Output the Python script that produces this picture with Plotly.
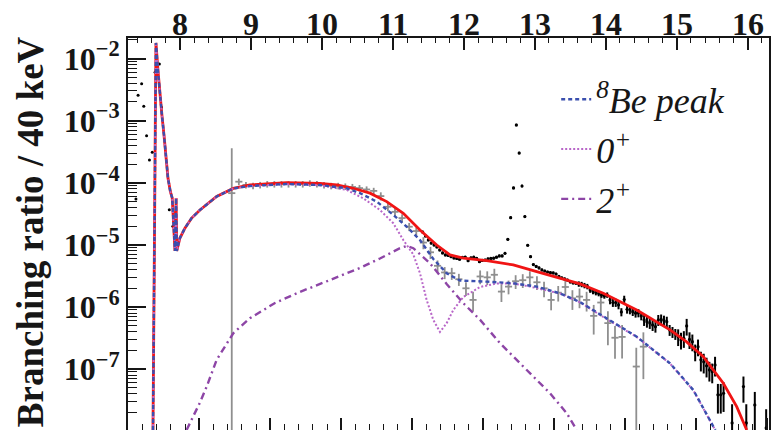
import plotly.graph_objects as go

# --- Hoyle-state region shared by the fit curves (x in MeV, branching ratio per 40 keV)
peak_x = [7.620, 7.634, 7.645, 7.655, 7.662, 7.690, 7.718, 7.746, 7.775, 7.803, 7.831,
          7.866, 7.891, 7.906, 7.930, 7.946, 7.955, 8.000, 8.070, 8.165, 8.282, 8.517, 8.751]
peak_y = [1.05e-8, 4.3e-7, 5.3e-5, 2.1e-3, 1.78e-2, 6.5e-3, 2.59e-3, 1.23e-3, 5.9e-4, 2.33e-4, 1.19e-4,
          7.1e-5, 5.7e-5, 2.7e-5, 8.0e-6, 5.7e-5, 8.0e-6, 1.29e-5, 1.86e-5, 2.7e-5, 3.65e-5, 6.0e-5, 8.1e-5]

# --- total fit (red)
total_x = peak_x + [8.986, 9.504, 9.973, 10.208, 10.442, 10.678, 10.913, 11.147, 11.382, 11.618,
                    11.805, 11.993, 12.322, 12.697, 13.027, 13.355, 13.637, 13.965, 14.436, 14.905,
                    15.140, 15.375, 15.656, 15.845, 15.986]
total_y = peak_y + [9.2e-5, 1.0e-4, 9.8e-5, 9.2e-5, 8.15e-5, 6.8e-5, 4.97e-5, 3.23e-5, 1.74e-5, 9.95e-6,
                    6.9e-6, 6.1e-6, 5.57e-6, 4.75e-6, 3.71e-6, 2.9e-6, 2.35e-6, 1.66e-6, 8.97e-7, 4.28e-7,
                    2.75e-7, 1.59e-7, 5.93e-8, 2.49e-8, 1.05e-8]

# --- 8Be peak component (blue dashed)
be_x = peak_x + [8.986, 9.504, 9.973, 10.349, 10.537, 10.772, 11.006, 11.195, 11.382, 11.570,
                 11.758, 11.946, 12.322, 12.697, 13.027, 13.355, 13.637, 13.965, 14.436, 14.905,
                 15.234, 15.516, 15.545]
be_y = peak_y + [8.87e-5, 9.55e-5, 9.2e-5, 8.15e-5, 6.8e-5, 4.97e-5, 3.04e-5, 1.96e-5, 1.2e-5, 5.93e-6,
                 3.49e-6, 2.67e-6, 2.56e-6, 2.41e-6, 2.13e-6, 1.66e-6, 1.2e-6, 7.0e-7, 3.33e-7, 1.24e-7,
                 4.6e-8, 1.19e-8, 1.05e-8]

# --- 0+ component (dotted)
zero_x = peak_x + [8.986, 9.504, 9.973, 10.349, 10.583, 10.818, 11.006, 11.147, 11.288, 11.382,
                   11.476, 11.570, 11.664, 11.758, 11.852, 11.993, 12.230, 12.463, 12.697, 12.932,
                   13.355, 13.637, 13.965, 14.436, 14.905, 15.234, 15.516, 15.545]
zero_y = peak_y + [8.8e-5, 9.5e-5, 9.1e-5, 7.66e-5, 5.62e-5, 3.65e-5, 2.23e-5, 1.2e-5, 7.0e-6, 3.5e-6,
                   1.3e-6, 6.2e-7, 3.97e-7, 5.48e-7, 8.97e-7, 1.45e-6, 2.1e-6, 2.39e-6, 2.39e-6, 2.13e-6,
                   1.65e-6, 1.19e-6, 6.9e-7, 3.3e-7, 1.23e-7, 4.55e-8, 1.18e-8, 1.05e-8]

# --- 2+ component (dash-dot)
two_x = [8.094, 8.187, 8.282, 8.376, 8.517, 8.751, 8.986, 9.339, 9.691, 10.114, 10.537, 10.818,
         11.100, 11.195, 11.288, 11.523, 11.758, 11.993, 12.230, 12.510, 12.745, 12.979,
         13.214, 13.450, 13.590]
two_y = [1.05e-8, 1.72e-8, 2.9e-8, 5.2e-8, 1.41e-7, 3.78e-7, 6.6e-7, 1.16e-6, 1.75e-6, 2.72e-6,
         4.26e-6, 6.04e-6, 8.83e-6, 9.6e-6, 8.83e-6, 5.06e-6, 2.35e-6, 1.15e-6, 6.2e-7, 2.61e-7,
         1.41e-7, 7.57e-8, 4.09e-8, 1.95e-8, 1.05e-8]

# --- grey data (100 keV bins) with relative uncertainties
grey_x = [8.73, 8.83, 8.93, 9.03, 9.13, 9.23, 9.33, 9.43, 9.53, 9.63, 9.73, 9.83, 9.93, 10.03,
          10.13, 10.23, 10.33, 10.43, 10.53, 10.63, 10.73, 10.83, 10.93, 11.03, 11.13, 11.23,
          11.33, 11.43, 11.53, 11.63, 11.73, 11.83, 11.93, 12.03, 12.13, 12.23, 12.33, 12.43,
          12.53, 12.63, 12.73, 12.83, 12.93, 13.03, 13.13, 13.23, 13.33, 13.43, 13.53, 13.63,
          13.73, 13.83, 13.93, 14.03, 14.13, 14.23, 14.43, 14.53]
grey_y = [6.8e-5, 1.04e-4, 9.2e-5, 8.9e-5, 9.2e-5, 9.5e-5, 9.5e-5, 9.5e-5, 9.5e-5, 9.5e-5, 9.5e-5,
          9.8e-5, 9.5e-5, 9.2e-5, 8.9e-5, 8.9e-5, 8.7e-5, 8.55e-5, 8.2e-5, 7.8e-5, 7.4e-5, 6.1e-5,
          4.1e-5, 3.4e-5, 2.7e-5, 1.96e-5, 1.67e-5, 1.09e-5, 7.6e-6, 4.6e-6, 3.6e-6, 3.5e-6, 2.8e-6,
          2.0e-6, 1.3e-6, 3.1e-6, 3.0e-6, 3.3e-6, 1.77e-6, 2.13e-6, 2.6e-6, 2.7e-6, 3.0e-6, 2.5e-6,
          2.0e-6, 1.3e-6, 1.7e-6, 2.1e-6, 1.38e-6, 1.47e-6, 1.3e-6, 7.2e-7, 1.18e-6, 5.5e-7, 3.2e-7,
          3.3e-7, 1.1e-7, 2.3e-7]
grey_rel = [4.3, 0.12, 0.12, 0.12, 0.12, 0.12, 0.12, 0.12, 0.12, 0.12, 0.12, 0.12, 0.12, 0.12,
            0.12, 0.12, 0.12, 0.12, 0.12, 0.12, 0.12, 0.15, 0.15, 0.15, 0.15, 0.15, 0.15, 0.22,
            0.22, 0.22, 0.22, 0.22, 0.22, 0.25, 0.35, 0.25, 0.25, 0.25, 0.32, 0.25, 0.25, 0.25,
            0.25, 0.25, 0.28, 0.32, 0.28, 0.28, 0.35, 0.35, 0.35, 0.5, 0.4, 0.56, 0.54, 0.55,
            1.0, 0.7]

# --- black data (40 keV bins): low-energy side of the Hoyle state
blk_left_x = [7.38, 7.41, 7.46, 7.49, 7.53, 7.57, 7.61, 7.65, 7.71, 7.74, 7.85, 7.90]
blk_left_y = [5.5e-5, 2.56e-3, 3.93e-3, 1.70e-3, 5.73e-4, 2.33e-4, 3.09e-4, 6.0e-3, 8.15e-3,
              1.64e-3, 3.69e-5, 2.0e-5]

# --- black data (40 keV bins): high-energy region
blk_x = [11.42, 11.46, 11.50, 11.54, 11.58, 11.62, 11.66, 11.70, 11.74, 11.78, 11.82, 11.86,
         11.90, 11.94, 11.98, 12.02, 12.06, 12.10, 12.14, 12.18, 12.22, 12.26, 12.30, 12.34,
         12.38, 12.42, 12.46, 12.50, 12.54, 12.58, 12.62, 12.66, 12.70, 12.74, 12.78, 12.82,
         12.86, 12.90, 12.94, 12.98, 13.02, 13.06, 13.10, 13.14, 13.18, 13.22, 13.26, 13.30,
         13.34, 13.38, 13.42, 13.46, 13.50, 13.54, 13.58, 13.62, 13.66, 13.70, 13.74, 13.78,
         13.82, 13.86, 13.90, 13.94, 13.98, 14.02, 14.06, 14.10, 14.14, 14.18, 14.22, 14.26,
         14.30, 14.34, 14.38, 14.42, 14.46, 14.50, 14.54, 14.58, 14.62, 14.66, 14.70, 14.74,
         14.78, 14.82, 14.86, 14.90, 14.94, 14.98, 15.02, 15.06, 15.10, 15.14, 15.18, 15.22,
         15.26, 15.30, 15.34, 15.38, 15.42, 15.46, 15.50, 15.54, 15.58, 15.62, 15.66, 15.78,
         15.94, 15.98, 16.10, 16.26]
blk_y = [1.61e-5, 1.39e-5, 1.20e-5, 1.07e-5, 9.97e-6, 9.27e-6, 8.28e-6, 7.41e-6, 6.88e-6, 6.76e-6,
         6.46e-6, 6.16e-6, 6.05e-6, 5.87e-6, 6.28e-6, 6.33e-6, 5.57e-6, 6.16e-6, 6.33e-6, 6.05e-6,
         5.37e-6, 5.61e-6, 5.71e-6, 5.93e-6, 6.05e-6, 6.1e-6, 6.33e-6, 6.64e-6, 6.64e-6, 7.33e-6,
         1.23e-5, 2.74e-5, 8.24e-5, 8.51e-4, 3.01e-4, 8.87e-5, 2.85e-5, 9.86e-6, 6.46e-6, 4.81e-6,
         4.50e-6, 4.26e-6, 3.95e-6, 3.80e-6, 3.66e-6, 3.57e-6, 3.53e-6, 3.40e-6, 3.10e-6, 2.94e-6,
         2.83e-6, 2.72e-6, 2.53e-6, 2.44e-6, 2.41e-6, 2.35e-6, 2.31e-6, 2.22e-6, 2.14e-6, 1.88e-6,
         1.78e-6, 1.71e-6, 1.65e-6, 1.56e-6, 1.51e-6, 1.56e-6, 1.30e-6, 1.18e-6, 1.18e-6, 1.08e-6,
         8.32e-7, 1.32e-6, 9.2e-7, 8.97e-7, 8.42e-7, 7.94e-7, 8.02e-7, 7.18e-7, 6.19e-7, 5.81e-7,
         5.54e-7, 5.14e-7, 4.83e-7, 6.19e-7, 6.31e-7, 6.04e-7, 5.81e-7, 4.28e-7, 3.97e-7, 3.69e-7,
         3.36e-7, 2.95e-7, 3.14e-7, 4.95e-7, 3.01e-7, 2.77e-7, 1.91e-7, 2.30e-7, 1.41e-7, 1.31e-7,
         1.13e-7, 9.7e-8, 9.1e-8, 1.17e-7, 3.85e-8, 3.85e-8, 4.09e-8, 1.36e-8, 5.24e-8, 1.36e-8,
         2.65e-8, 1.13e-8]
blk_rel = [
    0.05, 0.05, 0.05, 0.05, 0.05, 0.05, 0.05, 0.05, 0.05, 0.05, 0.05, 0.05, 0.05, 0.05, 0.05,
    0.05, 0.05, 0.05, 0.05, 0.05, 0.05, 0.05, 0.05, 0.05, 0.05, 0.05, 0.05, 0.05, 0.05, 0.05,
    0.05, 0.05, 0.05, 0.05, 0.05, 0.05, 0.05, 0.05, 0.05, 0.05, 0.05, 0.05, 0.05, 0.05, 0.05,
    0.05, 0.05, 0.05, 0.05, 0.05, 0.05, 0.05, 0.05, 0.05, 0.05,
    0.10, 0.10, 0.10, 0.10, 0.10, 0.10, 0.10, 0.10, 0.10, 0.10, 0.10,
    0.15, 0.15, 0.15, 0.15, 0.15, 0.15, 0.15, 0.15, 0.15, 0.15, 0.15, 0.15,
    0.20, 0.20, 0.20, 0.20, 0.20, 0.20, 0.20, 0.20, 0.20, 0.20, 0.20, 0.20,
    0.30, 0.30, 0.30, 0.30, 0.30, 0.30, 0.30, 0.30,
    0.35, 0.35, 0.35, 0.35, 0.35, 0.35,
    0.5, 0.5, 0.5, 1.0, 0.45, 1.0, 0.62, 1.0]

# --- axis labels
x_ticks = [8, 9, 10, 11, 12, 13, 14, 15, 16]
y_exponents = [-7, -6, -5, -4, -3, -2]

SERIF = "Liberation Serif"
INK = "#161616"
RED = "#f01414"
BLUE = "#3a4fae"
PINK = "#b866c8"
PURPLE = "#8d45a6"
GREY = "#8f8f8f"

fig = go.Figure()

# grey crosses
fig.add_trace(go.Scatter(
    x=grey_x, y=grey_y, mode="markers",
    marker=dict(size=2, color=GREY),
    error_x=dict(type="constant", value=0.05, width=0, thickness=1.8, color=GREY),
    error_y=dict(type="data", array=[v * r for v, r in zip(grey_y, grey_rel)],
                 width=0, thickness=1.8, color=GREY),
    showlegend=False, hoverinfo="skip"))

# black data
fig.add_trace(go.Scatter(
    x=blk_left_x, y=blk_left_y, mode="markers",
    marker=dict(size=3, color="black"),
    showlegend=False, hoverinfo="skip"))
fig.add_trace(go.Scatter(
    x=blk_x, y=blk_y, mode="markers",
    marker=dict(size=3.2, color="black"),
    error_y=dict(type="data", array=[v * r for v, r in zip(blk_y, blk_rel)],
                 width=0, thickness=2, color="black"),
    showlegend=False, hoverinfo="skip"))

# fit curves
fig.add_trace(go.Scatter(x=total_x, y=total_y, mode="lines",
                         line=dict(color=RED, width=2.8), showlegend=False, hoverinfo="skip"))
fig.add_trace(go.Scatter(x=two_x, y=two_y, mode="lines", name="2<sup>+</sup>", legendrank=3,
                         line=dict(color=PURPLE, width=2.4, dash="7px,4px,2px,4px")))
fig.add_trace(go.Scatter(x=zero_x, y=zero_y, mode="lines", name="0<sup>+</sup>", legendrank=2,
                         line=dict(color=PINK, width=2.0, dash="2px,2px")))
fig.add_trace(go.Scatter(x=be_x, y=be_y, mode="lines", name="<sup>8</sup>Be peak", legendrank=1,
                         line=dict(color=BLUE, width=2.4, dash="4px,3px")))

bold_tick = dict(family=SERIF, size=32, color=INK, weight="bold")

# energy labels above the top axis
top_labels = [dict(text=str(v), x=v, xref="x", y=1.0, yref="paper", yshift=14,
                   xanchor="center", yanchor="middle", showarrow=False, font=bold_tick)
              for v in x_ticks]

title = dict(text="Branching ratio / 40 keV", textangle=-90,
             xref="paper", yref="paper", x=-0.152, y=0.506, xanchor="center", yanchor="middle",
             showarrow=False, font=dict(family=SERIF, size=37, color=INK, weight="bold"))

fig.update_layout(
    width=773, height=430,
    margin=dict(l=128, r=4, t=38, b=0, autoexpand=False),
    paper_bgcolor="white", plot_bgcolor="white",
    showlegend=True,
    legend=dict(x=0.668, y=0.92, xanchor="left", yanchor="top",
                bgcolor="rgba(0,0,0,0)", borderwidth=0,
                font=dict(family=SERIF, size=36, color=INK, style="italic"),
                itemwidth=30, traceorder="normal"),
    xaxis=dict(
        type="linear", range=[7.268, 16.30], side="top",
        showgrid=False, zeroline=False,
        showline=True, linewidth=2, linecolor=INK, mirror=False,
        ticks="inside", ticklen=12, tickwidth=1.6, tickcolor=INK,
        tickvals=x_ticks, showticklabels=False,
        minor=dict(ticks="inside", ticklen=5, tickwidth=1.4, tickcolor=INK, dtick=0.2, showgrid=False),
    ),
    xaxis2=dict(
        type="linear", range=[6.995, 16.03], overlaying="x", side="bottom", anchor="y",
        showgrid=False, zeroline=False, showline=False, showticklabels=False,
        ticks="inside", ticklen=12, tickwidth=1.6, tickcolor=INK, dtick=1, tick0=0,
        minor=dict(ticks="inside", ticklen=6, tickwidth=1.4, tickcolor=INK, dtick=0.2, showgrid=False),
    ),
    yaxis=dict(
        type="log", range=[-7.98, -1.67],
        showgrid=False, zeroline=False,
        showline=True, linewidth=2, linecolor=INK, mirror=True,
        ticks="inside", ticklen=18, tickwidth=1.6, tickcolor=INK,
        tickvals=[10.0 ** e for e in y_exponents],
        ticktext=["10<sup>\u2212%d</sup>" % (-e) for e in y_exponents],
        tickfont=bold_tick,
        minor=dict(ticks="inside", ticklen=9, tickwidth=1.4, tickcolor=INK, showgrid=False,
                   tickvals=[m * 10.0 ** e for e in range(-8, -1) for m in range(2, 10)]),
    ),
    annotations=top_labels + [title],
)

# invisible anchor so the lower tick scale is drawn
fig.add_trace(go.Scatter(x=[10], y=[1e-5], xaxis="x2", mode="markers",
                         marker=dict(opacity=0), showlegend=False, hoverinfo="skip"))

fig.write_html("out.html")
